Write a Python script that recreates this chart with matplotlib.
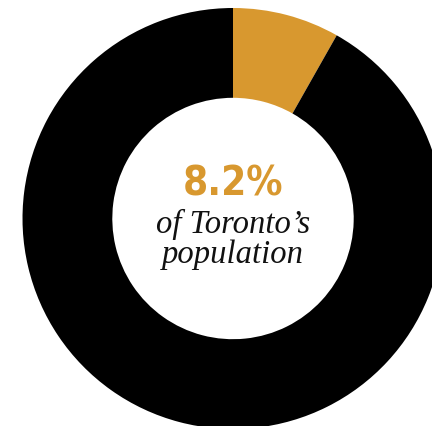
import matplotlib
matplotlib.use("Agg")
import matplotlib.pyplot as plt

labels = ["Share of Toronto's population", "Rest of population"]
values = [8.2, 91.8]
colors = ["#D8982F", "#000000"]
big_label = "8.2%"
sub_lines = ["of Toronto\u2019s", "population"]

W, H = 432, 427
fig = plt.figure(figsize=(W / 100, H / 100), dpi=100)
ax = fig.add_axes([0, 0, 1, 1])

cx, cy = 233, H - 219.5
r_out, r_in = 210.5, 120.7
ax.pie(values, colors=colors, startangle=90, counterclock=False,
       center=(cx, cy), radius=r_out, frame=True,
       wedgeprops=dict(width=r_out - r_in, linewidth=0))
ax.set_xlim(0, W)
ax.set_ylim(0, H)
ax.set_aspect("auto")
ax.axis("off")

ax.text(cx, H - 196, big_label, ha="center", va="baseline",
        color=colors[0], fontsize=29, fontweight="bold",
        family=["DejaVu Sans"], fontstretch="condensed")
ax.text(cx, H - 233, sub_lines[0], ha="center", va="baseline",
        color="#111111", fontsize=23.5, style="italic",
        family=["Liberation Serif", "DejaVu Serif"])
ax.text(cx, H - 263, sub_lines[1], ha="center", va="baseline",
        color="#111111", fontsize=23.5, style="italic",
        family=["Liberation Serif", "DejaVu Serif"])

fig.savefig("out.png", dpi=100)
